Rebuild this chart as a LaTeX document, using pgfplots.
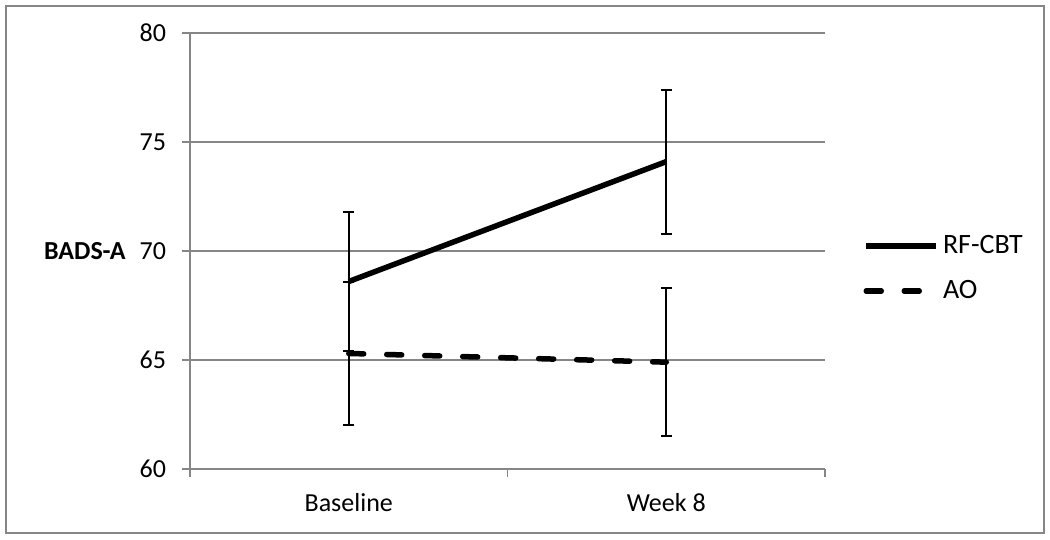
\documentclass[border=0pt]{standalone}
\usepackage{fontspec}
\setmainfont{Carlito}
\usepackage{pgfplots}
\pgfplotsset{compat=1.18}
\usepackage{pgfplotstable}
\definecolor{gridgray}{RGB}{134,134,134}
\pgfplotstableread{
x y e
0 68.6 3.2
1 74.1 3.3
}\rfcbt
\pgfplotstableread{
x y e
0 65.3 3.3
1 64.9 3.4
}\ao
\begin{document}
\begin{tikzpicture}
\useasboundingbox (0,0) rectangle (525pt,270pt);
\draw[gridgray, line width=1pt] (3pt,3.5pt) rectangle (522pt,267pt);
\begin{axis}[
  at={(95pt,35.5pt)}, anchor=south west,
  width=317.5pt, height=218pt, scale only axis,
  xmin=-0.5, xmax=1.5, ymin=60, ymax=80,
  ytick={60,65,...,80},
  xtick=data, xticklabels={Baseline,Week 8},
  minor xtick={-0.5,0.5,1.5},
  axis x line*=bottom, axis y line*=left,
  axis line style={gridgray, line width=0.75pt, -},
  ymajorgrids, grid style={gridgray, line width=0.75pt},
  tick align=outside, major tick length=4pt, minor tick length=4pt,
  major x tick style={draw=none},
  minor x tick style={gridgray, line width=0.75pt},
  ytick style={gridgray, line width=0.75pt},
  /pgf/number format/assume math mode=true,
  yticklabel style={font=\fontsize{13}{15}\selectfont, xshift=-4.5pt},
  xticklabel style={font=\fontsize{13}{15}\selectfont, yshift=-4.5pt},
  legend style={at={(axis description cs:1.06,0.46)}, anchor=west, draw=none, fill=none,
    font=\fontsize{14}{16}\selectfont, row sep=8pt, inner sep=0pt},
  legend cell align=left,
  legend image code/.code={\draw[#1] (0pt,0pt) -- (35pt,0pt);},
  clip=false,
]
\addplot[black, line width=2.75pt, mark=none,
  error bars/.cd, y dir=both, y explicit,
  error bar style={line width=1pt, solid, line cap=butt},
  error mark options={rotate=90, mark size=2.75pt, line width=1pt, solid}]
  table[x=x, y=y, y error=e]{\rfcbt};
\addlegendentry{RF-CBT}
\addplot[black, line width=2.75pt, mark=none, line cap=round, dash pattern=on 7.5pt off 11.5pt,
  error bars/.cd, y dir=both, y explicit,
  error bar style={line width=1pt, solid, line cap=butt},
  error mark options={rotate=90, mark size=2.75pt, line width=1pt, solid}]
  table[x=x, y=y, y error=e]{\ao};
\addlegendentry{AO}
\node[anchor=east, inner sep=0pt, font=\bfseries\fontsize{13}{15}\selectfont] at (axis description cs:-0.1008,0.5) {BADS-A};
\end{axis}
\end{tikzpicture}
\end{document}
